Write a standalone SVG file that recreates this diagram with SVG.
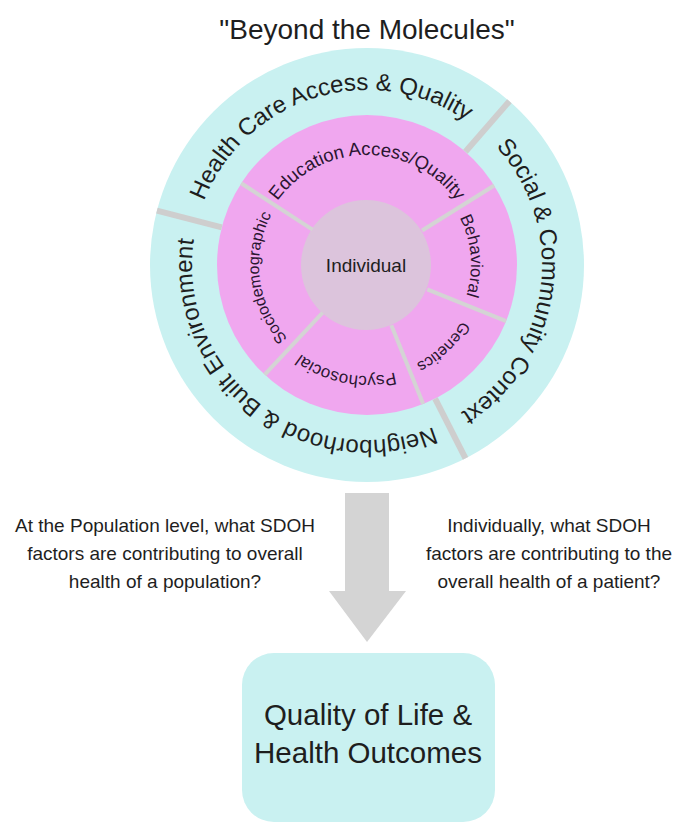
<svg xmlns="http://www.w3.org/2000/svg" xmlns:xlink="http://www.w3.org/1999/xlink" width="676" height="824" viewBox="0 0 676 824">
<style>
text{font-family:"Liberation Sans",Arial,sans-serif;fill:#1e1e1e}
.outer{font-size:24px}
.inner{fill:#2a1530}
.side{font-size:19px}
.sep-o{stroke:#cecece;stroke-width:6}
.sep-i{stroke:#d4d4d4;stroke-width:4}
</style>
<defs>
<path id="pHealth" d="M200.57,210.92 A175,175 0 0 1 474.74,127.10"/>
<path id="pSocial" d="M489.66,140.18 A175,175 0 0 1 453.16,417.31"/>
<path id="pNeigh" d="M440.96,423.60 A175,175 0 0 1 195.21,231.61"/>
<path id="pEdu" d="M273.71,206.71 A110,110 0 0 1 460.29,206.71"/>
<path id="pBeh" d="M457.07,213 A104,104 0 0 1 464.73,300.57"/>
<path id="pGen" d="M465.01,314.94 A110,110 0 0 1 409.98,366.26"/>
<path id="pPsy" d="M401.30,370.57 A111,111 0 0 1 295.65,350.03"/>
<path id="pSoc" d="M291.30,342.03 A108,108 0 0 1 273.94,210.19"/>
</defs>
<rect width="676" height="824" fill="#ffffff"/>
<g id="title"><text x="367" y="39" font-size="28" text-anchor="middle">"Beyond the Molecules"</text></g>
<g id="outer-ring">
<circle cx="367" cy="265" r="217" fill="#c9f1f1"/>
</g>
<g id="inner-ring">
<circle cx="367" cy="265" r="150" fill="#f0a7ef"/>
</g>
<g id="individual">
<circle cx="366" cy="265" r="65" fill="#dcc4dc"/>
<text x="366" y="272" font-size="19" text-anchor="middle" fill="#2a2a2a">Individual</text>
</g>
<g id="separators">
<line class="sep-o" x1="465.41" y1="151.79" x2="509.37" y2="101.23"/>
<line class="sep-o" x1="221.78" y1="227.44" x2="156.91" y2="210.67"/>
<line class="sep-o" x1="435.10" y1="398.65" x2="465.52" y2="458.35"/>
<line class="sep-i" x1="312.49" y1="229.60" x2="241.20" y2="183.30"/>
<line class="sep-i" x1="422.12" y1="230.56" x2="494.21" y2="185.51"/>
<line class="sep-i" x1="427.27" y1="289.35" x2="506.08" y2="321.19"/>
<line class="sep-i" x1="391.35" y1="325.27" x2="423.19" y2="404.08"/>
<line class="sep-i" x1="322.67" y1="312.54" x2="264.70" y2="374.70"/>
</g>
<g id="health-care"><text class="outer"><textPath xlink:href="#pHealth" href="#pHealth" startOffset="50%" text-anchor="middle">Health Care Access &amp; Quality</textPath></text></g>
<g id="social-community"><text class="outer"><textPath xlink:href="#pSocial" href="#pSocial" startOffset="50%" text-anchor="middle">Social &amp; Community Context</textPath></text></g>
<g id="neighborhood"><text class="outer"><textPath xlink:href="#pNeigh" href="#pNeigh" startOffset="50%" text-anchor="middle">Neighborhood &amp; Built Environment</textPath></text></g>
<g id="education"><text class="inner" font-size="18.5"><textPath xlink:href="#pEdu" href="#pEdu" startOffset="50%" text-anchor="middle">Education Access/Quality</textPath></text></g>
<g id="behavioral"><text class="inner" font-size="17"><textPath xlink:href="#pBeh" href="#pBeh" startOffset="50%" text-anchor="middle">Behavioral</textPath></text></g>
<g id="genetics"><text class="inner" font-size="16"><textPath xlink:href="#pGen" href="#pGen" startOffset="50%" text-anchor="middle">Genetics</textPath></text></g>
<g id="psychosocial"><text class="inner" font-size="17"><textPath xlink:href="#pPsy" href="#pPsy" startOffset="50%" text-anchor="middle">Psychosocial</textPath></text></g>
<g id="sociodemographic"><text class="inner" font-size="16"><textPath xlink:href="#pSoc" href="#pSoc" startOffset="50%" text-anchor="middle">Sociodemographic</textPath></text></g>
<g id="connectors">
<polygon points="345,493 389,493 389,591 406,591 367,642 329,591 345,591" fill="#d4d4d4"/>
</g>
<g id="population-question">
<text class="side" text-anchor="middle"><tspan x="165" y="532">At the Population level, what SDOH</tspan><tspan x="165" y="560">factors are contributing to overall</tspan><tspan x="165" y="588">health of a population?</tspan></text>
</g>
<g id="individual-question">
<text class="side" text-anchor="middle"><tspan x="549" y="532">Individually, what SDOH</tspan><tspan x="549" y="560">factors are contributing to the</tspan><tspan x="549" y="588">overall health of a patient?</tspan></text>
</g>
<g id="outcomes">
<rect x="242" y="653" width="253" height="169" rx="32" ry="32" fill="#c9f1f1"/>
<text x="368" y="725" font-size="29.5" text-anchor="middle">Quality of Life &amp;</text>
<text x="368" y="763" font-size="29.5" text-anchor="middle">Health Outcomes</text>
</g>
</svg>
